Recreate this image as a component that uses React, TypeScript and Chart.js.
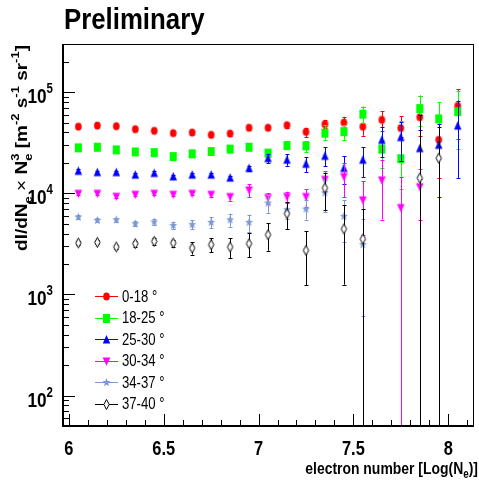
import React, { useEffect, useRef } from "react";
import { Chart, registerables } from "chart.js";

Chart.register(...registerables);

// ---------------- data ----------------
const xValues = [6.05, 6.15, 6.25, 6.35, 6.45, 6.55, 6.65, 6.75, 6.85, 6.95, 7.05, 7.15, 7.25, 7.35, 7.45, 7.55, 7.65, 7.75, 7.85, 7.95, 8.05];

const flux0to18 = [45700, 46800, 46100, 43100, 41500, 39400, 39900, 37900, 39000, 44500, 44500, 47200, 40500, 48300, 50100, 45700, 53300, 44200, 56600, 33800, 73300];
const errUp0to18 = [1500, 1500, 1500, 1500, 1500, 1500, 1500, 1600, 1700, 1800, 2000, 2500, 4000, 5000, 7000, 26000, 12000, 14000, 36000, 19500, 34000];
const errDown0to18 = [1500, 1500, 1500, 1500, 1500, 1500, 1500, 1600, 1700, 1800, 2000, 2500, 4300, 4100, 6000, 8600, 11500, 8000, 20000, 19600, 38500];

const flux18to25 = [28200, 28600, 26900, 25700, 25300, 23100, 24600, 25900, 27400, 28600, 25000, 29700, 29500, 39400, 40800, 60700, 27400, 22000, 68900, 54500, 64300];
const errUp18to25 = [1000, 1000, 1000, 1000, 1000, 1000, 1000, 1000, 1000, 1000, 1200, 1500, 3500, 8000, 6700, 11400, 6400, 30000, 23600, 26000, 39000];
const errDown18to25 = [1000, 1000, 1000, 1000, 1000, 1000, 1000, 1000, 1000, 1000, 1200, 1500, 3800, 5600, 7000, 11000, 9600, 11000, 23000, 26000, 37000];

const flux25to30 = [16700, 16200, 16200, 15300, 15900, 14700, 15300, 15300, 14300, 17800, 22300, 21500, 19600, 23500, 17800, 21500, 33800, 36000, 28000, 30200, 46800];
const errUp25to30 = [600, 600, 600, 600, 600, 600, 600, 600, 600, 1000, 2300, 2800, 3300, 5000, 5500, 7000, 11000, 15000, 14000, 18000, 36000];
const errDown25to30 = [600, 600, 600, 600, 600, 600, 600, 600, 600, 1000, 2300, 2800, 3300, 5000, 5500, 7000, 11000, 15000, 14000, 21000, 32600];

const flux30to34 = [9900, 9900, 9250, 9680, 9900, 9680, 9900, 9680, 9190, 10700, 8990, 9190, 9190, 13600, 14500, 8510, 13400, 7160, 11500, null, null];
const errUp30to34 = [350, 350, 350, 350, 350, 350, 350, 400, 700, 1600, 1100, 1200, 1800, 3000, 5300, 4600, 7900, 7200, 6000, null, null];
const errDown30to34 = [350, 350, 350, 350, 350, 350, 350, 400, 700, 1600, 1100, 1200, 1800, 3000, 5300, 4600, 7900, 7200, 6000, null, null];

const flux34to37 = [5830, 5400, 5480, 5010, 5210, 4820, 4900, 5170, 5480, 5170, 8020, 6890, 7000, 10100, 5920, 3110, null, null, null, null, null];
const errUp34to37 = [250, 250, 250, 300, 350, 400, 500, 650, 800, 1000, 1600, 1300, 1500, 3600, 2600, 2500, null, null, null, null, null];
const errDown34to37 = [250, 250, 250, 300, 350, 400, 500, 650, 800, 1000, 1600, 1300, 1500, 3600, 2600, 2500, null, null, null, null, null];

const flux37to40 = [3230, 3270, 2950, 3180, 3350, 3230, 2880, 3110, 2950, 3180, 3900, 6300, 2730, 11300, 4450, 3540, null, null, 14200, 22300, null];
const errUp37to40 = [150, 150, 150, 200, 250, 250, 400, 500, 650, 850, 1200, 1900, 1500, 4500, 3200, 3500, null, null, 45000, 23400, null];
const errDown37to40 = [150, 150, 150, 200, 250, 250, 400, 500, 650, 850, 1200, 1900, 1500, 4500, 3200, 3540, null, null, 14200, 22300, null];

const seriesLabels = ["0-18 °", "18-25 °", "25-30 °", "30-34 °", "34-37 °", "37-40 °"];
const seriesColors = ["#ff0000", "#00ff00", "#0000ff", "#ff00ff", "#7b97d4", "#000000"];
const seriesMarkers = ["circle", "square", "triangleUp", "triangleDown", "star", "diamond"];
const seriesValues = [flux0to18, flux18to25, flux25to30, flux30to34, flux34to37, flux37to40];
const seriesErrUp = [errUp0to18, errUp18to25, errUp25to30, errUp30to34, errUp34to37, errUp37to40];
const seriesErrDown = [errDown0to18, errDown18to25, errDown25to30, errDown30to34, errDown34to37, errDown37to40];

const xTickValues = [6, 6.5, 7, 7.5, 8];
const xTickLabels = ["6", "6.5", "7", "7.5", "8"];
const yTickExponents = [2, 3, 4, 5];

const titleText = "Preliminary";
const X_MIN = 5.969;
const X_MAX = 8.136;
const Y_MIN = 50;
const Y_MAX = 300000;

// ---------------- helpers ----------------
const FAMILY = '"Liberation Sans", Arial, Helvetica, sans-serif';
const SX = 0.82;

type Seg = { t: string; size: number; bold: boolean; dy: number; keep?: boolean };

function fontOf(s: Seg) {
  return `${s.bold ? "bold " : ""}${s.size}px ${FAMILY}`;
}
function segsWidth(ctx: CanvasRenderingContext2D, segs: Seg[]) {
  let w = 0;
  for (const s of segs) {
    ctx.font = fontOf(s);
    if (!s.keep) w += ctx.measureText(s.t).width;
  }
  return w;
}
function drawSegs(ctx: CanvasRenderingContext2D, segs: Seg[], x: number, y: number) {
  let cx = x;
  ctx.textAlign = "left";
  ctx.textBaseline = "alphabetic";
  for (const s of segs) {
    ctx.font = fontOf(s);
    ctx.fillText(s.t, cx, y + s.dy);
    if (!s.keep) cx += ctx.measureText(s.t).width;
  }
}

function makeMarker(kind: string, color: string): HTMLCanvasElement {
  const c = document.createElement("canvas");
  const w = kind === "star" ? 11 : 9;
  const h = kind === "diamond" ? 13 : 11;
  c.width = w;
  c.height = h;
  const g = c.getContext("2d")!;
  const cx = w / 2;
  const cy = h / 2;
  g.fillStyle = color;
  g.strokeStyle = color;
  g.beginPath();
  if (kind === "circle") {
    g.ellipse(cx, cy, 3.3, 3.9, 0, 0, Math.PI * 2);
    g.fill();
  } else if (kind === "square") {
    g.rect(cx - 3.5, cy - 4.5, 7, 9);
    g.fill();
  } else if (kind === "triangleUp") {
    g.moveTo(cx, cy - 4.4);
    g.lineTo(cx + 3.7, cy + 4);
    g.lineTo(cx - 3.7, cy + 4);
    g.closePath();
    g.fill();
  } else if (kind === "triangleDown") {
    g.moveTo(cx - 3.8, cy - 4);
    g.lineTo(cx + 3.8, cy - 4);
    g.lineTo(cx, cy + 4.2);
    g.closePath();
    g.fill();
  } else if (kind === "star") {
    for (let k = 0; k < 10; k++) {
      const ang = -Math.PI / 2 + (k * Math.PI) / 5;
      const r = k % 2 === 0 ? 4.6 : 2.0;
      const px = cx + Math.cos(ang) * r * 0.9;
      const py = cy + Math.sin(ang) * r;
      if (k === 0) g.moveTo(px, py);
      else g.lineTo(px, py);
    }
    g.closePath();
    g.fill();
  } else if (kind === "diamond") {
    g.moveTo(cx, cy - 5);
    g.lineTo(cx + 2.7, cy);
    g.lineTo(cx, cy + 5);
    g.lineTo(cx - 2.7, cy);
    g.closePath();
    g.fillStyle = "#ffffff";
    g.fill();
    g.lineWidth = 1;
    g.strokeStyle = color;
    g.stroke();
  }
  return c;
}

function buildPlugin(markers: HTMLCanvasElement[]) {
  return {
    id: "rootStyle",
    beforeDatasetDraw(chart: any, args: any) {
      const i = args.index;
      const { ctx, chartArea: a, scales } = chart;
      const xs = scales.x;
      const ys = scales.y;
      const vals = seriesValues[i];
      const up = seriesErrUp[i];
      const dn = seriesErrDown[i];
      ctx.save();
      ctx.beginPath();
      ctx.rect(a.left, a.top, a.right - a.left, a.bottom - a.top);
      ctx.clip();
      ctx.strokeStyle = seriesColors[i];
      ctx.lineWidth = 1;
      for (let j = 0; j < xValues.length; j++) {
        const v = vals[j];
        if (v == null) continue;
        const px = Math.round(xs.getPixelForValue(xValues[j])) + 0.5;
        const hi = v + (up[j] || 0);
        const lo = v - (dn[j] || 0);
        const pyHi = ys.getPixelForValue(hi);
        const loInside = lo > Y_MIN;
        const pyLo = loInside ? ys.getPixelForValue(lo) : a.bottom;
        ctx.beginPath();
        ctx.moveTo(px, pyHi);
        ctx.lineTo(px, pyLo);
        ctx.moveTo(px - 2, Math.round(pyHi) + 0.5);
        ctx.lineTo(px + 2, Math.round(pyHi) + 0.5);
        if (loInside) {
          ctx.moveTo(px - 2, Math.round(pyLo) + 0.5);
          ctx.lineTo(px + 2, Math.round(pyLo) + 0.5);
        }
        ctx.stroke();
      }
      ctx.restore();
    },
    afterDraw(chart: any) {
      const { ctx, chartArea: a, scales } = chart;
      const xs = scales.x;
      const ys = scales.y;
      ctx.save();
      ctx.fillStyle = "#000";
      ctx.strokeStyle = "#000";

      // frame
      ctx.lineWidth = 1;
      ctx.beginPath();
      ctx.moveTo(a.left, a.top + 0.5);
      ctx.lineTo(a.right, a.top + 0.5);
      ctx.moveTo(a.right - 0.5, a.top);
      ctx.lineTo(a.right - 0.5, a.bottom);
      ctx.stroke();
      ctx.lineWidth = 2;
      ctx.beginPath();
      ctx.moveTo(a.left, a.top);
      ctx.lineTo(a.left, a.bottom + 1);
      ctx.moveTo(a.left - 1, a.bottom);
      ctx.lineTo(a.right, a.bottom);
      ctx.stroke();

      // y ticks
      ctx.lineWidth = 1;
      ctx.beginPath();
      for (let d = 1; d <= 5; d++) {
        for (let m = 1; m <= 9; m++) {
          const v = m * Math.pow(10, d);
          if (v < Y_MIN || v > Y_MAX) continue;
          const py = Math.round(ys.getPixelForValue(v)) + 0.5;
          const len = m === 1 ? 12 : 6;
          ctx.moveTo(a.left, py);
          ctx.lineTo(a.left + len, py);
        }
      }
      // x ticks
      for (let k = 60; k <= 81; k++) {
        const v = k / 10;
        if (v < X_MIN || v > X_MAX) continue;
        const px = Math.round(xs.getPixelForValue(v)) + 0.5;
        const len = k % 5 === 0 ? 12 : 6;
        ctx.moveTo(px, a.bottom);
        ctx.lineTo(px, a.bottom - len);
      }
      ctx.stroke();

      // x tick labels
      for (let t = 0; t < xTickValues.length; t++) {
        const px = xs.getPixelForValue(xTickValues[t]);
        ctx.save();
        ctx.translate(px, 455);
        ctx.scale(SX, 1);
        ctx.font = `bold 20px ${FAMILY}`;
        ctx.textAlign = "center";
        ctx.textBaseline = "alphabetic";
        ctx.fillText(xTickLabels[t], 0, 0);
        ctx.restore();
      }

      // y tick labels
      for (const e of yTickExponents) {
        const py = ys.getPixelForValue(Math.pow(10, e));
        const segs: Seg[] = [
          { t: "10", size: 21, bold: true, dy: 0 },
          { t: String(e), size: 14, bold: true, dy: -10 },
        ];
        ctx.save();
        ctx.translate(53, py + 11);
        ctx.scale(SX, 1);
        const w = segsWidth(ctx, segs);
        drawSegs(ctx, segs, -w, 0);
        ctx.restore();
      }

      // x axis title
      {
        const segs: Seg[] = [
          { t: "electron number [Log(N", size: 17, bold: true, dy: 0 },
          { t: "e", size: 12, bold: true, dy: 4 },
          { t: ")]", size: 17, bold: true, dy: 0 },
        ];
        ctx.save();
        ctx.translate(478, 474);
        ctx.scale(SX, 1);
        const w = segsWidth(ctx, segs);
        drawSegs(ctx, segs, -w, 0);
        ctx.restore();
      }

      // y axis title (rotated)
      {
        const segs: Seg[] = [
          { t: "dI/dN", size: 19, bold: true, dy: 0 },
          { t: "e", size: 13, bold: true, dy: 5 },
          { t: " \u00d7 ", size: 19, bold: false, dy: 0 },
          { t: "N", size: 19, bold: true, dy: 0 },
          { t: "e", size: 13, bold: true, dy: 5, keep: true },
          { t: "3", size: 13, bold: true, dy: -9 },
          { t: " [m", size: 19, bold: true, dy: 0 },
          { t: "-2", size: 13, bold: true, dy: -9 },
          { t: " s", size: 19, bold: true, dy: 0 },
          { t: "-1", size: 13, bold: true, dy: -9 },
          { t: " sr", size: 19, bold: true, dy: 0 },
          { t: "-1", size: 13, bold: true, dy: -9 },
          { t: "]", size: 19, bold: true, dy: 0 },
        ];
        ctx.save();
        ctx.translate(27, 45);
        ctx.rotate(-Math.PI / 2);
        ctx.scale(1, 0.9);
        const w = segsWidth(ctx, segs);
        drawSegs(ctx, segs, -w, 0);
        ctx.restore();
      }

      // title
      ctx.save();
      ctx.translate(64, 29);
      ctx.scale(0.86, 1);
      ctx.font = `bold 30px ${FAMILY}`;
      ctx.textAlign = "left";
      ctx.textBaseline = "alphabetic";
      ctx.fillText(titleText, 0, 0);
      ctx.restore();

      // legend
      for (let i = 0; i < seriesLabels.length; i++) {
        const cy = 296 + i * 21.5;
        ctx.strokeStyle = seriesColors[i];
        ctx.lineWidth = 1;
        ctx.beginPath();
        ctx.moveTo(95, Math.round(cy) + 0.5);
        ctx.lineTo(118, Math.round(cy) + 0.5);
        ctx.stroke();
        const mk = markers[i];
        ctx.drawImage(mk, 106.5 - mk.width / 2, Math.round(cy) + 0.5 - mk.height / 2);
        ctx.save();
        ctx.translate(122, cy + 5.5);
        ctx.scale(SX, 1);
        ctx.fillStyle = "#000";
        ctx.font = `16px ${FAMILY}`;
        ctx.textAlign = "left";
        ctx.fillText(seriesLabels[i], 0, 0);
        ctx.restore();
      }
      ctx.restore();
    },
  };
}

export default function App() {
  const ref = useRef<HTMLCanvasElement>(null);
  useEffect(() => {
    const canvas = ref.current;
    if (!canvas) return;
    const markers = seriesMarkers.map((m, i) => makeMarker(m, seriesColors[i]));
    const datasets = seriesValues.map((vals, i) => ({
      label: seriesLabels[i],
      data: xValues
        .map((x, j) => (vals[j] == null ? null : { x, y: vals[j] as number }))
        .filter((p) => p !== null) as { x: number; y: number }[],
      pointStyle: markers[i],
      pointRadius: 4,
      showLine: false,
      borderColor: seriesColors[i],
      backgroundColor: seriesColors[i],
      order: 5 - i,
    }));
    const chart = new Chart(canvas, {
      type: "scatter",
      data: { datasets },
      options: {
        animation: false,
        responsive: false,
        events: [],
        layout: { padding: { left: 63, top: 44, right: 2, bottom: 57 } },
        scales: {
          x: { type: "linear", min: X_MIN, max: X_MAX, display: false },
          y: { type: "logarithmic", min: Y_MIN, max: Y_MAX, display: false },
        },
        plugins: {
          legend: { display: false },
          tooltip: { enabled: false },
          title: { display: false },
        },
      },
      plugins: [buildPlugin(markers)],
    } as any);
    return () => chart.destroy();
  }, []);
  return (
    <div style={{ position: "fixed", left: 0, top: 0, width: 479, height: 483, background: "#fff" }}>
      <canvas ref={ref} width={479} height={483} style={{ display: "block" }} />
    </div>
  );
}
